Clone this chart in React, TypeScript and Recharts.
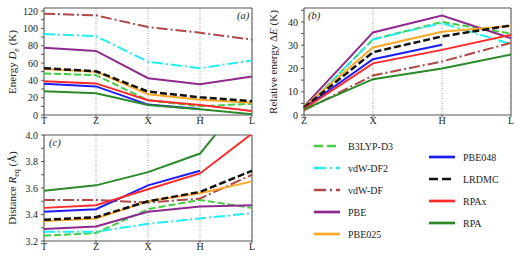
import { LineChart, Line, XAxis, YAxis, CartesianGrid, ReferenceArea } from "recharts"

const serif = "'Liberation Serif', 'DejaVu Serif', serif"

const pathFull = ["T", "Z", "X", "H", "L"]
const pathRel = ["Z", "X", "H", "L"]

// (a) binding energy D_e in K, along T Z X H L
const deB3lyp = [48, 46, 17, 10, 13]
const deVdwDf2 = [93.5, 91, 61.5, 54, 63]
const deVdwDf = [117, 115, 101.5, 95, 87]
const dePbe = [77.5, 74, 42.5, 35.5, 44.5]
const dePbe025 = [53, 50, 24, 17.5, 14]
const dePbe048 = [36, 33, 12, 7, null]
const deLrdmc = [54, 50.5, 27, 20.5, 16]
const deRpax = [39, 36.5, 17, 11.5, 4.5]
const deRpa = [27.5, 25, 11.5, 6.5, 1]

// (b) relative energy dE in K, along Z X H L
const reB3lyp = [2.5, 32.5, 40, 35]
const reVdwDf2 = [2.5, 32.5, 39.5, 30.5]
const reVdwDf = [2, 17, 23, 31]
const rePbe = [3.7, 35.5, 42.8, 33]
const rePbe025 = [3.5, 29, 35.8, 38.3]
const rePbe048 = [3, 24, 30.2, null]
const reLrdmc = [3.2, 27, 33.8, 38.5]
const reRpax = [2.6, 22.2, 28, 34.5]
const reRpa = [2.4, 15.4, 20, 26]

// (c) equilibrium distance R_eq in Angstrom, along T Z X H L
const rqB3lyp = [3.24, 3.26, 3.44, 3.51, 3.45]
const rqVdwDf2 = [3.27, 3.27, 3.33, 3.37, 3.41]
const rqVdwDf = [3.51, 3.51, 3.49, 3.52, 3.7]
const rqPbe = [3.29, 3.31, 3.42, 3.46, 3.47]
const rqPbe025 = [3.35, 3.37, 3.5, 3.56, 3.65]
const rqPbe048 = [3.42, 3.44, 3.62, 3.73, null]
const rqLrdmc = [3.36, 3.38, 3.5, 3.57, 3.73]
const rqRpax = [3.45, 3.47, 3.59, 3.71, 4.01]
const rqRpa = [3.58, 3.62, 3.72, 3.86, 4.34]

const ticksA = [0, 10, 20, 30, 40, 50, 60, 70, 80, 90, 100, 110, 120]
const ticksB = [0, 5, 10, 15, 20, 25, 30, 35, 40, 45]
const ticksC = [3.2, 3.3, 3.4, 3.5, 3.6, 3.7, 3.8, 3.9, 4.0]

const series = [
  { key: "b3lyp", name: "B3LYP-D3", color: "#44cc44", dash: "7 3", w: 2 },
  { key: "vdwdf2", name: "vdW-DF2", color: "#22eef2", dash: "11 3 2 3", w: 2 },
  { key: "vdwdf", name: "vdW-DF", color: "#b04848", dash: "11 3 2 3", w: 2 },
  { key: "pbe", name: "PBE", color: "#8e2a8e", dash: undefined, w: 2 },
  { key: "pbe025", name: "PBE025", color: "#ffa726", dash: undefined, w: 2 },
  { key: "pbe048", name: "PBE048", color: "#1c1cf5", dash: undefined, w: 2 },
  { key: "lrdmc", name: "LRDMC", color: "#111111", dash: "7 3", w: 2.5 },
  { key: "rpax", name: "RPAx", color: "#ff2a2a", dash: undefined, w: 2 },
  { key: "rpa", name: "RPA", color: "#2a8a2a", dash: undefined, w: 2 },
]

function rows(cats: string[], cols: (number | null)[][]) {
  return cats.map((k, i) => {
    const r: any = { k }
    series.forEach((s, j) => (r[s.key] = cols[j][i]))
    return r
  })
}

const dataA = rows(pathFull, [deB3lyp, deVdwDf2, deVdwDf, dePbe, dePbe025, dePbe048, deLrdmc, deRpax, deRpa])
const dataB = rows(pathRel, [reB3lyp, reVdwDf2, reVdwDf, rePbe, rePbe025, rePbe048, reLrdmc, reRpax, reRpa])
const dataC = rows(pathFull, [rqB3lyp, rqVdwDf2, rqVdwDf, rqPbe, rqPbe025, rqPbe048, rqLrdmc, rqRpax, rqRpa])

const tickFont = { fontSize: 10, fill: "#222", fontFamily: serif }

function Panel({ data, cats, domain, ticks, fmt, left, top, height, marginTop, marginRight }: any) {
  return (
    <div style={{ position: "absolute", left, top }}>
      <LineChart
        width={260}
        height={height}
        data={data}
        margin={{ top: marginTop, right: marginRight, left: 0, bottom: 0 }}
      >
        <CartesianGrid horizontal={false} stroke="#9a9a9a" strokeDasharray="1 1.5" />
        <XAxis
          dataKey="k"
          interval={0}
          height={15}
          axisLine={false}
          tickSize={2}
          tickMargin={0}
          stroke="#555"
          tick={tickFont}
        />
        <YAxis
          type="number"
          domain={domain}
          ticks={ticks}
          allowDataOverflow
          interval={0}
          width={44}
          axisLine={false}
          tickSize={3}
          tickMargin={3}
          stroke="#555"
          tick={tickFont}
          tickFormatter={fmt}
        />
        {series.map((s) => (
          <Line
            key={s.key}
            dataKey={s.key}
            type="linear"
            stroke={s.color}
            strokeWidth={s.w}
            strokeDasharray={s.dash}
            dot={false}
            activeDot={false}
            isAnimationActive={false}
          />
        ))}
        <ReferenceArea
          x1={cats[0]}
          x2={cats[cats.length - 1]}
          y1={domain[0]}
          y2={domain[1]}
          fill="none"
          stroke="#555"
          strokeWidth={1}
          ifOverflow="visible"
        />
      </LineChart>
    </div>
  )
}

function RotTitle({ cx, cy, children }: any) {
  const w = 140
  return (
    <div
      style={{
        position: "absolute",
        left: cx - w / 2,
        top: cy - 7,
        width: w,
        height: 14,
        lineHeight: "14px",
        textAlign: "center",
        transform: "rotate(-90deg)",
        whiteSpace: "nowrap",
        fontFamily: serif,
        fontSize: 11,
        color: "#222",
      }}
    >
      {children}
    </div>
  )
}

function Tag({ x, y, text }: any) {
  return (
    <div
      style={{
        position: "absolute",
        left: x,
        top: y,
        fontFamily: serif,
        fontStyle: "italic",
        fontSize: 10.5,
        lineHeight: "12px",
        color: "#222",
      }}
    >
      {text}
    </div>
  )
}

const legendCol1 = ["b3lyp", "vdwdf2", "vdwdf", "pbe", "pbe025"]
const legendCol2 = ["pbe048", "lrdmc", "rpax", "rpa"]

function LegendItem({ k, x, y }: any) {
  const s = series.find((q) => q.key === k)!
  return (
    <div style={{ position: "absolute", left: x, top: y - 7, height: 14, display: "flex", alignItems: "center" }}>
      <svg width={28} height={14}>
        <line x1={0} y1={7} x2={26} y2={7} stroke={s.color} strokeWidth={2.7} strokeDasharray={s.dash ? (s.dash === "7 3" ? "9 4" : "12 4 2 4") : undefined} />
      </svg>
      <span style={{ marginLeft: 6, fontFamily: serif, fontSize: 10, color: "#222", whiteSpace: "nowrap" }}>{s.name}</span>
    </div>
  )
}

export default function App() {
  return (
    <div style={{ position: "absolute", left: 0, top: 0, width: 520, height: 260, background: "#fff", overflow: "hidden" }}>
      <Panel
        data={dataA}
        cats={pathFull}
        domain={[0, 123.5]}
        ticks={ticksA}
        fmt={(v: number) => (v % 20 === 0 ? String(v) : "")}
        left={0}
        top={0}
        height={130}
        marginTop={8}
        marginRight={8}
      />
      <Panel
        data={dataB}
        cats={pathRel}
        domain={[0, 46]}
        ticks={ticksB}
        fmt={(v: number) => (v % 10 === 0 ? String(v) : "")}
        left={260}
        top={0}
        height={130}
        marginTop={8}
        marginRight={9}
      />
      <Panel
        data={dataC}
        cats={pathFull}
        domain={[3.2, 4.0]}
        ticks={ticksC}
        fmt={(v: number) => (Math.round(v * 10) % 2 === 0 ? v.toFixed(1) : "")}
        left={0}
        top={128}
        height={128}
        marginTop={7}
        marginRight={8}
      />
      <RotTitle cx={12} cy={62}>
        Energy <i>D</i>
        <sub style={{ fontSize: 8 }}>e</sub> (K)
      </RotTitle>
      <RotTitle cx={273} cy={62}>
        Relative energy Δ<i>E</i> (K)
      </RotTitle>
      <RotTitle cx={12} cy={188}>
        Distance <i>R</i>
        <sub style={{ fontSize: 8 }}>eq</sub> (Å)
      </RotTitle>
      <Tag x={237} y={10} text="(a)" />
      <Tag x={308} y={10} text="(b)" />
      <Tag x={49} y={137} text="(c)" />
      {legendCol1.map((k, i) => (
        <LegendItem key={k} k={k} x={314} y={[146, 168, 190, 212, 234][i]} />
      ))}
      {legendCol2.map((k, i) => (
        <LegendItem key={k} k={k} x={429} y={[157, 179, 201, 223][i]} />
      ))}
    </div>
  )
}
